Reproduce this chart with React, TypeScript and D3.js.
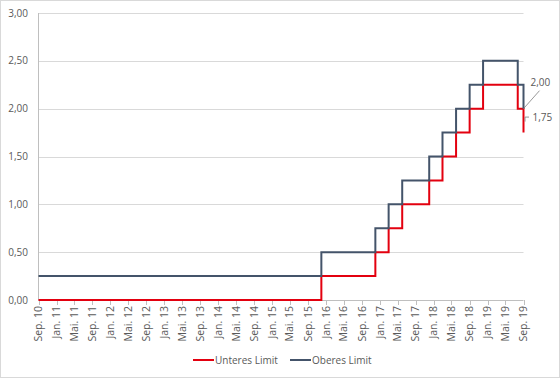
import React from "react";
import * as d3 from "d3";

const changeDates = [
  "2010-09-01", "2015-12-01", "2016-12-01", "2017-03-01", "2017-06-01", "2017-12-01",
  "2018-03-01", "2018-06-01", "2018-09-01", "2018-12-01", "2019-07-24", "2019-09-01",
];
const unteresLimit = [0, 0.25, 0.5, 0.75, 1.0, 1.25, 1.5, 1.75, 2.0, 2.25, 2.0, 1.75];
const oberesLimit = [0.25, 0.5, 0.75, 1.0, 1.25, 1.5, 1.75, 2.0, 2.25, 2.5, 2.25, 2.0];
const yTicks = [0, 0.5, 1.0, 1.5, 2.0, 2.5, 3.0];
const monthNames = ["Jan.", "Feb.", "Mrz.", "Apr.", "Mai.", "Jun.", "Jul.", "Aug.", "Sep.", "Okt.", "Nov.", "Dez."];
const seriesNames = ["Unteres Limit", "Oberes Limit"];
const colors = ["#e3000f", "#44546a"];

const W = 560, H = 378;
const FONT = "'Open Sans', 'Noto Sans', sans-serif";
const TXT = "#595959";

export default function App() {
  const parse = d3.timeParse("%Y-%m-%d");
  const dates = changeDates.map((d) => parse(d) as Date);
  const x = d3.scaleTime().domain([parse("2010-09-01") as Date, parse("2019-09-01") as Date]).range([38.5, 523.5]);
  const y = d3.scaleLinear().domain([0, 3]).range([300, 13]);
  const fmt = (v: number) => v.toFixed(2).replace(".", ",");
  const xTicks = d3.timeMonth.every(4)!.range(x.domain()[0], d3.timeDay.offset(x.domain()[1], 1));
  const line = d3
    .line<[Date, number]>()
    .x((d) => x(d[0]))
    .y((d) => y(d[1]))
    .curve(d3.curveStepAfter);
  const lower = line(dates.map((d, i) => [d, unteresLimit[i]] as [Date, number]));
  const upper = line(dates.map((d, i) => [d, oberesLimit[i]] as [Date, number]));
  const lastX = x(dates[dates.length - 1]);
  const lastU = oberesLimit[oberesLimit.length - 1];
  const lastL = unteresLimit[unteresLimit.length - 1];

  return (
    <svg width={W} height={H} style={{ position: "absolute", left: 0, top: 0, background: "#fff" }} fontFamily={FONT}>
      <rect x={0.5} y={0.5} width={W - 1} height={H - 1} fill="#fff" stroke="#d9d9d9" />
      {yTicks.map((t) => (
        <g key={t}>
          {t > 0 && <line x1={38.5} x2={523.5} y1={Math.round(y(t)) + 0.5} y2={Math.round(y(t)) + 0.5} stroke="#d9d9d9" />}
          <text x={28} y={y(t)} dy="0.35em" textAnchor="end" fontSize={10} fill={TXT}>
            {fmt(t)}
          </text>
        </g>
      ))}
      <line x1={38.5} x2={38.5} y1={13} y2={300} stroke="#bfbfbf" />
      <line x1={38.5} x2={523.5} y1={300.5} y2={300.5} stroke="#bfbfbf" />
      {xTicks.map((d, i) => (
        <g key={i}>
          <line x1={Math.round(x(d)) + 0.5} x2={Math.round(x(d)) + 0.5} y1={300} y2={305} stroke="#bfbfbf" />
          <text
            transform={`translate(${x(d)},306) rotate(-90)`}
            dy="0.35em"
            textAnchor="end"
            fontSize={10.5}
            fill={TXT}
          >
            {`${monthNames[d.getMonth()]} ${String(d.getFullYear() % 100).padStart(2, "0")}`}
          </text>
        </g>
      ))}
      <path d={lower || ""} fill="none" stroke={colors[0]} strokeWidth={2} />
      <path d={upper || ""} fill="none" stroke={colors[1]} strokeWidth={2} />
      {/* annotations */}
      <line x1={lastX} y1={y(lastU)} x2={lastX + 16} y2={y(lastU) - 18} stroke="#7f7f7f" strokeWidth={0.8} />
      <text x={lastX + 7} y={y(lastU) - 26} dy="0.35em" fontSize={10} fill={TXT}>
        {fmt(lastU)}
      </text>
      <path d={`M${lastX + 1.5},${y(lastL) - 11} V${y(lastL) - 15.5} H${lastX + 5.5}`} fill="none" stroke="#7f7f7f" strokeWidth={0.8} />
      <text x={lastX + 9} y={y(lastL) - 15} dy="0.35em" fontSize={10} fill={TXT}>
        {fmt(lastL)}
      </text>
      {/* legend */}
      {seriesNames.map((n, i) => {
        const lx = i === 0 ? 193 : 290;
        return (
          <g key={n}>
            <line x1={lx} x2={lx + 21} y1={360} y2={360} stroke={colors[i]} strokeWidth={2} />
            <text x={lx + 22} y={360} dy="0.35em" fontSize={10} fill={TXT}>
              {n}
            </text>
          </g>
        );
      })}
    </svg>
  );
}
